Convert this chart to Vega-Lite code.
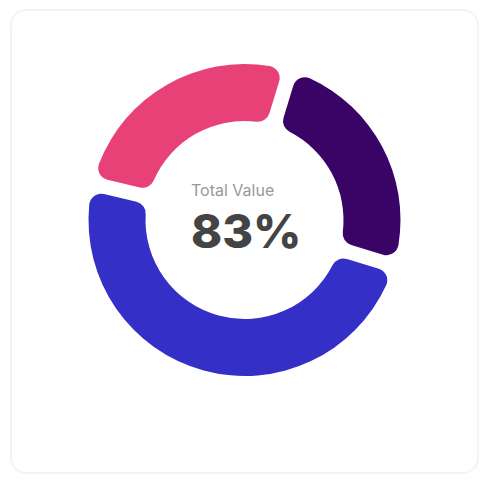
{
  "$schema": "https://vega.github.io/schema/vega-lite/v6.json",
  "width": 467,
  "height": 463,
  "padding": {"left": 11, "top": 10, "right": 11, "bottom": 16},
  "autosize": {"type": "none"},
  "background": "#ffffff",
  "view": {"fill": "#ffffff", "stroke": "#f4f4f4", "strokeWidth": 2, "cornerRadius": 15},
  "config": {
    "font": "Inter"
  },
  "layer": [
    {
      "data": {
        "values": [
          {"segment": "Purple", "value": 25, "rank": 1},
          {"segment": "Blue", "value": 49, "rank": 2},
          {"segment": "Pink", "value": 26, "rank": 3}
        ]
      },
      "mark": {"type": "arc", "innerRadius": 99, "outerRadius": 156, "padAngle": 0.08, "cornerRadius": 12, "yOffset": -21.5},
      "encoding": {
        "theta": {"field": "value", "type": "quantitative", "stack": true, "scale": {"range": [0.2967, 6.5799]}},
        "order": {"field": "rank", "type": "quantitative"},
        "color": {
          "field": "segment",
          "type": "nominal",
          "scale": {"domain": ["Purple", "Blue", "Pink"], "range": ["#3A0467", "#332FC7", "#E84178"]},
          "legend": null
        }
      }
    },
    {
      "data": {"values": [{"label": "Total Value"}]},
      "mark": {"type": "text", "align": "left", "baseline": "alphabetic", "dx": -53.5, "dy": -45.5, "fontSize": 16, "color": "#999999", "font": "Inter"},
      "encoding": {"text": {"field": "label", "type": "nominal"}}
    },
    {
      "data": {"values": [{"label": "83%"}]},
      "mark": {"type": "text", "align": "left", "baseline": "alphabetic", "dx": -53.5, "dy": 6.5, "fontSize": 47, "fontWeight": 800, "color": "#444444", "font": "Inter"},
      "encoding": {"text": {"field": "label", "type": "nominal"}}
    }
  ]
}
